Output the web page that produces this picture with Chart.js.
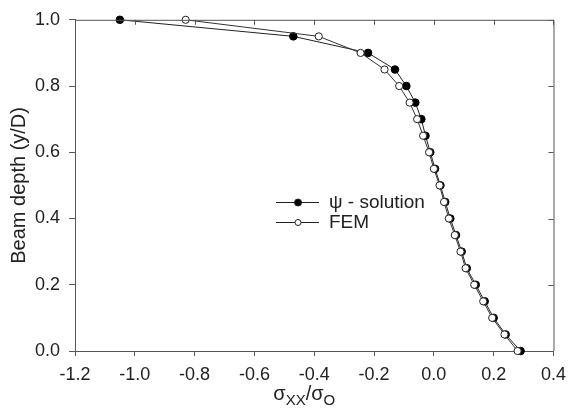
<!DOCTYPE html>
<html>
<head>
<meta charset="utf-8">
<script src="https://cdn.jsdelivr.net/npm/chart.js@4.4.1/dist/chart.umd.min.js"></script>
<style>
    html, body { margin: 0; padding: 0; background: #fff; }
    #wrap { width: 574px; height: 413px; }
</style>
</head>
<body>
<div id="wrap"><canvas id="stressChart"></canvas></div>
<script>
// depth y/D vs normalised stress
var depth = [1.0, 0.95, 0.9, 0.85, 0.8, 0.75, 0.7, 0.65, 0.6, 0.55, 0.5,
             0.45, 0.4, 0.35, 0.3, 0.25, 0.2, 0.15, 0.1, 0.05, 0.0];
var psiStress = [-1.05, -0.47, -0.22, -0.13, -0.092, -0.062, -0.042, -0.028, -0.012, 0.004, 0.022,
                 0.038, 0.055, 0.074, 0.093, 0.11, 0.14, 0.17, 0.2, 0.24, 0.29];
var femStress = [-0.83, -0.385, -0.245, -0.165, -0.116, -0.081, -0.056, -0.036, -0.016, 0.0, 0.019,
                 0.034, 0.05, 0.07, 0.089, 0.106, 0.135, 0.165, 0.195, 0.236, 0.28];
var xTicks = [-1.2, -1.0, -0.8, -0.6, -0.4, -0.2, 0.0, 0.2, 0.4];
var yTicks = [0.0, 0.2, 0.4, 0.6, 0.8, 1.0];
var seriesNames = ['\u03C8 - solution', 'FEM'];

var FONT = '"Liberation Sans", Arial, sans-serif';
var TEXT = '#222';
var AXIS = '#555';

function toPoints(xs) {
    return xs.map(function (x, i) { return { x: x, y: depth[i] }; });
}

// frame, inward ticks on top/right, legend and x title
var decorations = {
    id: 'decorations',
    afterDraw: function (chart) {
        var ctx = chart.ctx;
        var a = chart.chartArea;
        var sx = chart.scales.x, sy = chart.scales.y;
        ctx.save();
        ctx.strokeStyle = AXIS;
        ctx.lineWidth = 1;
        ctx.beginPath();
        ctx.moveTo(a.left, a.top + 0.5);
        ctx.lineTo(a.right + 0.5, a.top + 0.5);
        ctx.lineTo(a.right + 0.5, a.bottom);
        xTicks.forEach(function (v) {
            var px = Math.round(sx.getPixelForValue(v)) + 0.5;
            ctx.moveTo(px, a.top);
            ctx.lineTo(px, a.top + 5);
        });
        yTicks.forEach(function (v) {
            var py = Math.round(sy.getPixelForValue(v)) + 0.5;
            ctx.moveTo(a.right, py);
            ctx.lineTo(a.right - 5, py);
        });
        ctx.stroke();

        // legend
        var rows = [202, 222];
        chart.data.datasets.forEach(function (ds) {
            var k = ds.legendIndex;
            var y = rows[k] + 0.5;
            ctx.strokeStyle = '#222';
            ctx.beginPath();
            ctx.moveTo(276, y);
            ctx.lineTo(319, y);
            ctx.stroke();
            ctx.beginPath();
            ctx.arc(298, y, k === 0 ? 3.5 : 3, 0, Math.PI * 2);
            ctx.fillStyle = ds.pointBackgroundColor;
            ctx.fill();
            ctx.stroke();
            ctx.fillStyle = TEXT;
            ctx.font = '19px ' + FONT;
            ctx.textBaseline = 'middle';
            ctx.textAlign = 'left';
            ctx.fillText(ds.label, 329, rows[k] + 1);
        });

        // x axis title: sigma_xx / sigma_o
        var parts = [
            { t: '\u03C3', size: 20, dy: 0 },
            { t: 'XX', size: 15, dy: 5 },
            { t: '/\u03C3', size: 20, dy: 0 },
            { t: 'O', size: 15, dy: 5 }
        ];
        var total = 0;
        parts.forEach(function (p) {
            ctx.font = p.size + 'px ' + FONT;
            p.w = ctx.measureText(p.t).width;
            total += p.w;
        });
        var cx = (a.left + a.right) / 2 - 10;
        var x = cx - total / 2;
        ctx.textBaseline = 'alphabetic';
        ctx.fillStyle = TEXT;
        parts.forEach(function (p) {
            ctx.font = p.size + 'px ' + FONT;
            ctx.fillText(p.t, x, 400 + p.dy);
            x += p.w;
        });
        ctx.restore();
    }
};

new Chart(document.getElementById('stressChart').getContext('2d'), {
    type: 'scatter',
    data: {
        datasets: [{
            label: seriesNames[1],
            legendIndex: 1,
            data: toPoints(femStress),
            showLine: true,
            borderColor: '#333',
            borderWidth: 1,
            pointBackgroundColor: '#fff',
            pointBorderColor: '#222',
            pointBorderWidth: 1,
            pointRadius: 3.6,
            clip: false,
            order: 0
        }, {
            label: seriesNames[0],
            legendIndex: 0,
            data: toPoints(psiStress),
            showLine: true,
            borderColor: '#222',
            borderWidth: 1,
            pointBackgroundColor: '#000',
            pointBorderColor: '#000',
            pointBorderWidth: 1,
            pointRadius: 3.8,
            clip: false,
            order: 1
        }]
    },
    options: {
        responsive: true,
        maintainAspectRatio: false,
        animation: false,
        layout: { padding: { top: 19, right: 14, left: 0, bottom: 0 } },
        plugins: {
            legend: { display: false },
            tooltip: { enabled: false }
        },
        scales: {
            x: {
                type: 'linear',
                min: -1.2,
                max: 0.4,
                afterBuildTicks: function (s) { s.ticks = xTicks.map(function (v) { return { value: v }; }); },
                afterFit: function (s) { s.height = 62; },
                ticks: {
                    color: TEXT,
                    font: { family: FONT, size: 18 },
                    padding: 8,
                    maxRotation: 0,
                    callback: function (v) { return v.toFixed(1); }
                },
                grid: { drawOnChartArea: false, color: AXIS, tickLength: 5 },
                border: { color: AXIS, width: 1 }
            },
            y: {
                type: 'linear',
                min: 0,
                max: 1,
                afterBuildTicks: function (s) { s.ticks = yTicks.map(function (v) { return { value: v }; }); },
                afterFit: function (s) { s.width = 75; },
                ticks: {
                    color: TEXT,
                    font: { family: FONT, size: 18 },
                    padding: 9,
                    callback: function (v) { return v.toFixed(1); }
                },
                grid: { drawOnChartArea: false, color: AXIS, tickLength: 6 },
                border: { color: AXIS, width: 1 },
                title: {
                    display: true,
                    text: 'Beam depth (y/D)',
                    color: TEXT,
                    font: { family: FONT, size: 20 },
                    padding: { top: 7, bottom: 0 }
                }
            }
        }
    },
    plugins: [decorations]
});
</script>
</body>
</html>
